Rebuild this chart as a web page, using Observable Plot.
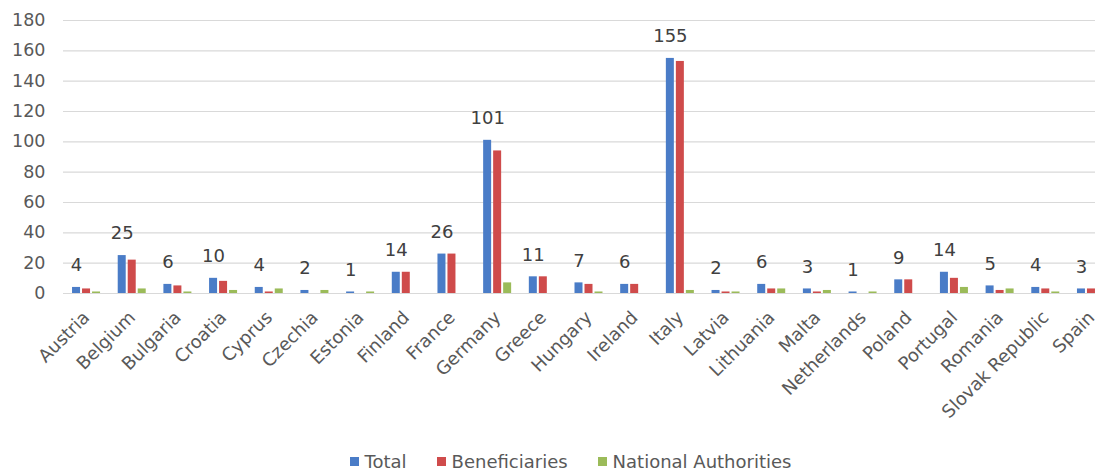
<!DOCTYPE html>
<html>
<head>
<meta charset="utf-8">
<script src="https://cdn.jsdelivr.net/npm/d3@7"></script>
<script src="https://cdn.jsdelivr.net/npm/@observablehq/plot@0.6"></script>
<style>
  body { margin: 0; background: #fff; font-family: "DejaVu Sans", Verdana, sans-serif; }
  #chart { height: 450px; }
  #legend { display: flex; justify-content: center; align-items: center; gap: 30px; padding-left: 42px; height: 21px; line-height: 21px; font-size: 18px; color: #595959; position: relative; top: 1px; }
  #legend span.item { display: flex; align-items: center; }
  #legend span.sw { display: inline-block; width: 9px; height: 9px; margin-right: 6px; }
</style>
</head>
<body>
<div id="chart"></div>
<div id="legend"></div>
<script>
const countries = ["Austria","Belgium","Bulgaria","Croatia","Cyprus","Czechia","Estonia","Finland","France","Germany","Greece","Hungary","Ireland","Italy","Latvia","Lithuania","Malta","Netherlands","Poland","Portugal","Romania","Slovak Republic","Spain"];
const total =         [4, 25, 6, 10, 4, 2, 1, 14, 26, 101, 11, 7, 6, 155, 2, 6, 3, 1, 9, 14, 5, 4, 3];
const beneficiaries = [3, 22, 5,  8, 1, 0, 0, 14, 26,  94, 11, 6, 6, 153, 1, 3, 1, 0, 9, 10, 2, 3, 3];
const national =      [1,  3, 1,  2, 3, 2, 1,  0,  0,   7,  0, 1, 0,   2, 1, 3, 2, 1, 0,  4, 3, 1, 0];
const seriesNames = ["Total", "Beneficiaries", "National Authorities"];
const seriesColors = ["#4a7cc7", "#cf4b4b", "#9bbb59"];
const yTicks = [0, 20, 40, 60, 80, 100, 120, 140, 160, 180];

const seriesValues = [total, beneficiaries, national];
const seriesRows = seriesValues.map((vals, j) => countries.map((c, i) => ({country: c, series: seriesNames[j], value: vals[i]})));
const offsets = [-10, 0, 10];

const chart = Plot.plot({
  width: 1099,
  height: 450,
  marginLeft: 63,
  marginRight: 4,
  marginTop: 20,
  marginBottom: 157,
  style: { fontFamily: "DejaVu Sans, Verdana, sans-serif", background: "#fff", display: "block" },
  x: { domain: countries, range: [63.2, 1113.8], padding: 0, round: false },
  y: { domain: [0, 180] },
  marks: [
    Plot.gridY(yTicks, { stroke: "#d9d9d9", strokeOpacity: 1, strokeWidth: 1.2 }),
    Plot.axisY(yTicks, { tickSize: 0, tickPadding: 18, label: null, fontSize: 17.5, fill: "#595959" }),
    ...seriesRows.map((data, j) => Plot.barY(data, {
      x: "country", y: "value", fill: seriesColors[j], dx: offsets[j], insetLeft: 18.84, insetRight: 18.84
    })),
    Plot.text(seriesRows[0], { x: "country", y: "value", text: d => String(d.value), dx: -10, dy: -22, fontSize: 18, fill: "#404040" }),
    Plot.axisX({ tickRotate: -45, tickSize: 0, tickPadding: 21, label: null, fontSize: 18, fill: "#595959" })
  ]
});
document.getElementById("chart").append(chart);

const legend = document.getElementById("legend");
seriesNames.forEach((s, j) => {
  const item = document.createElement("span");
  item.className = "item";
  const sw = document.createElement("span");
  sw.className = "sw";
  sw.style.background = seriesColors[j];
  item.append(sw, document.createTextNode(s));
  legend.append(item);
});
</script>
</body>
</html>
